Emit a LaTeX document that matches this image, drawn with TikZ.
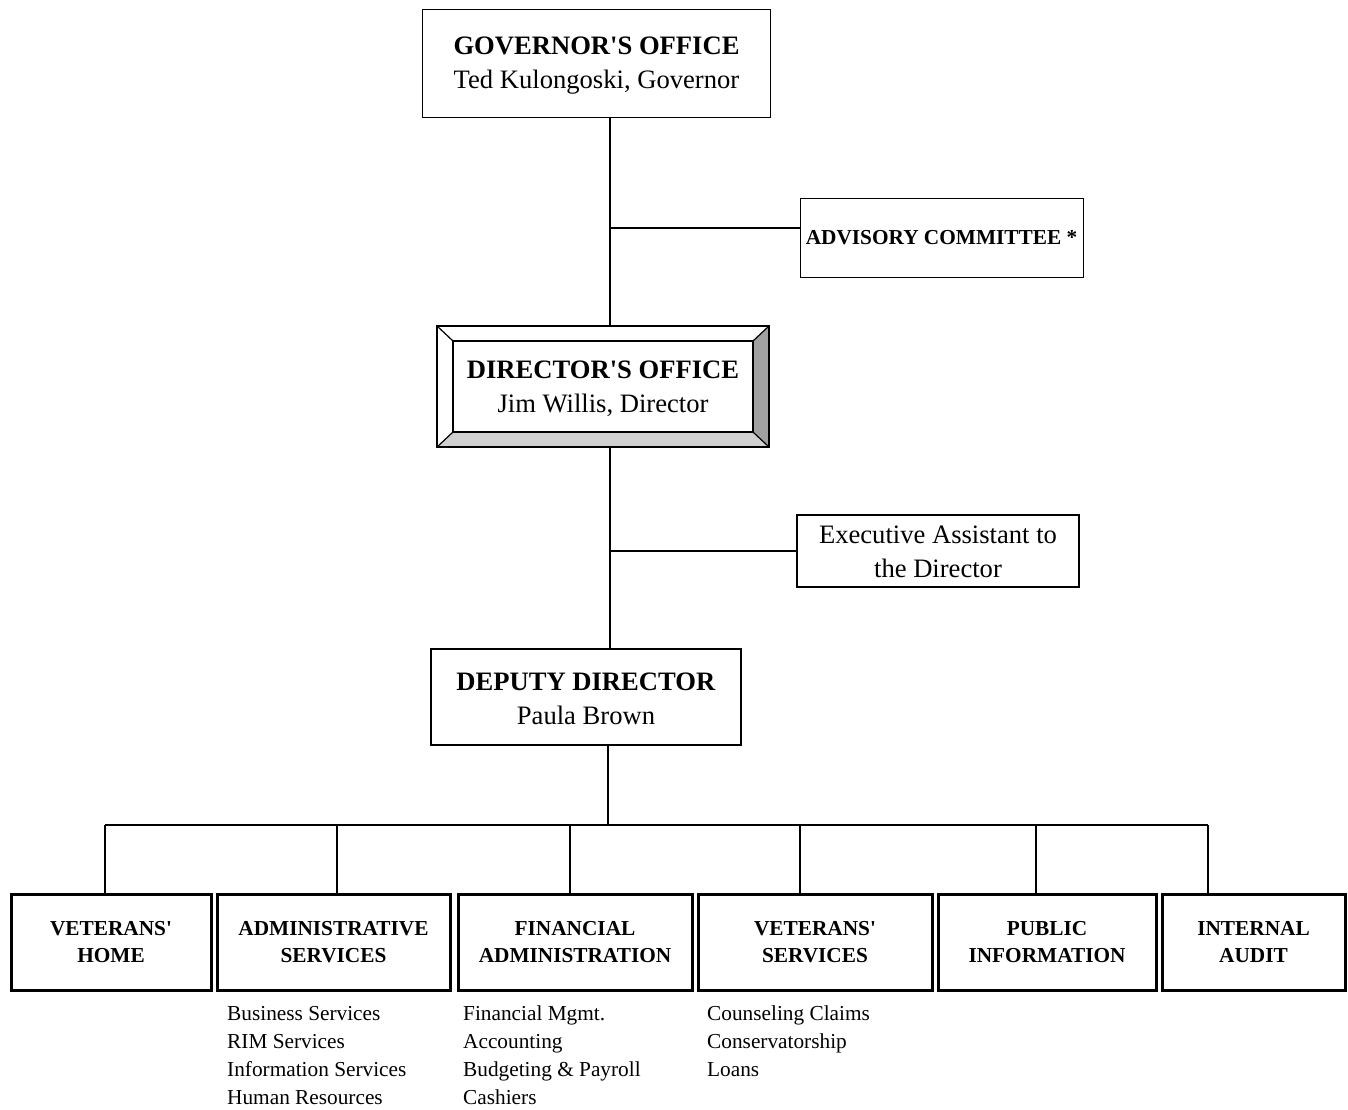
\documentclass[tikz,border=0pt]{standalone}
\usepackage{fontspec}
\setmainfont{Liberation Serif}
\usetikzlibrary{calc}
\definecolor{bevR}{HTML}{A0A0A0}
\definecolor{bevB}{HTML}{D0D0D0}
\newcommand{\ap}{\textquotesingle}
\tikzset{
  big/.style={font=\fontsize{26.6}{34}\selectfont, align=center},
  unitbox/.style={draw, line width=3pt, inner sep=0pt, minimum height=96pt,
    font=\fontsize{21.3}{27.5}\selectfont\bfseries, align=center},
  subitem/.style={anchor=base west, inner sep=0pt, font=\fontsize{21.3}{28}\selectfont},
  conn/.style={line width=2pt},
}
\begin{document}
\begin{tikzpicture}[x=1pt,y=-1pt]
\useasboundingbox (0,0) rectangle (1348,1109);
% top boxes
\node[big, draw, line width=1.6pt, minimum width=348pt, minimum height=108pt, inner sep=0pt] (gov) at (596.5,63.5)
  {};
\node[big, inner sep=0pt] (govt) at (596.5,65.5) {\textbf{GOVERNOR\ap S OFFICE}\\Ted Kulongoski, Governor};
\node[draw, line width=1pt, minimum width=283pt, minimum height=79pt, inner sep=0pt,
  font=\fontsize{21.3}{26}\selectfont\bfseries] (adv) at (941.5,237.5) {ADVISORY COMMITTEE *};
% director's office bevel box
\node[minimum width=332pt, minimum height=121pt, inner sep=0pt] (dir) at (603,386.5) {};
\node[minimum width=300pt, minimum height=91pt, inner sep=0pt] (dirin) at (603,386.5) {};
\fill[white] (dir.north west) -- (dir.north east) -- (dirin.north east) -- (dirin.north west) -- cycle;
\fill[white] (dir.north west) -- (dir.south west) -- (dirin.south west) -- (dirin.north west) -- cycle;
\fill[bevR] (dir.north east) -- (dir.south east) -- (dirin.south east) -- (dirin.north east) -- cycle;
\fill[bevB] (dir.south west) -- (dir.south east) -- (dirin.south east) -- (dirin.south west) -- cycle;
\draw[line width=2pt] (dir.north west) rectangle (dir.south east);
\draw[line width=1.6pt] (dirin.north west) rectangle (dirin.south east);
\draw[line width=1.2pt] (dir.north west) -- (dirin.north west)
  (dir.north east) -- (dirin.north east)
  (dir.south west) -- (dirin.south west)
  (dir.south east) -- (dirin.south east);
\node[big, inner sep=0pt] (dirt) at (603,388.5) {\textbf{DIRECTOR\ap S OFFICE}\\Jim Willis, Director};
\node[draw, line width=1.6pt, minimum width=282pt, minimum height=72pt, inner sep=0pt] (exe) at (938,551) {};
\node[big, inner sep=0pt] (exet) at (938,552) {Executive Assistant to\\the Director};
\node[draw, line width=2pt, minimum width=310pt, minimum height=96pt, inner sep=0pt] (dep) at (586,697) {};
\node[big, inner sep=0pt] (dept) at (586,699) {\textbf{DEPUTY DIRECTOR}\\Paula Brown};
% bottom units
\node[unitbox, minimum width=200pt] (u1) at (111,942) {VETERANS\ap\\HOME};
\node[unitbox, minimum width=233pt] (u2) at (333.5,942) {ADMINISTRATIVE\\SERVICES};
\node[unitbox, minimum width=234pt] (u3) at (575,942) {FINANCIAL\\ADMINISTRATION};
\node[unitbox, minimum width=234pt] (u4) at (815,942) {VETERANS\ap\\SERVICES};
\node[unitbox, minimum width=218pt] (u5) at (1047,942) {PUBLIC\\INFORMATION};
\node[unitbox, minimum width=183pt] (u6) at (1253.5,942) {INTERNAL\\AUDIT};
% connectors
\coordinate (ja) at (610,228);
\coordinate (je) at (610,551);
\coordinate (jd) at (608,825);
\draw[conn] (ja |- gov.south) -- (ja |- dir.north);
\draw[conn] (ja) -- (ja -| adv.west);
\draw[conn] (je |- dir.south) -- (je |- dep.north);
\draw[conn] (je) -- (je -| exe.west);
\draw[conn] (jd |- dep.south) -- (jd);
\coordinate (b1) at (105,825);
\coordinate (b2) at (337,825);
\coordinate (b3) at (570,825);
\coordinate (b4) at (800,825);
\coordinate (b5) at (1036,825);
\coordinate (b6) at (1208,825);
\draw[conn] (b1) -- (b6);
\draw[conn] (b1) -- (b1 |- u1.north);
\draw[conn] (b2) -- (b2 |- u2.north);
\draw[conn] (b3) -- (b3 |- u3.north);
\draw[conn] (b4) -- (b4 |- u4.north);
\draw[conn] (b5) -- (b5 |- u5.north);
\draw[conn] (b6) -- (b6 |- u6.north);
% sub items
\node[subitem] (a1) at (227,1020) {Business Services};
\node[subitem] (a2) at (227,1048) {RIM Services};
\node[subitem] (a3) at (227,1076) {Information Services};
\node[subitem] (a4) at (227,1104) {Human Resources};
\node[subitem] (f1) at (463,1020) {Financial Mgmt.};
\node[subitem] (f2) at (463,1048) {Accounting};
\node[subitem] (f3) at (463,1076) {Budgeting \& Payroll};
\node[subitem] (f4) at (463,1104) {Cashiers};
\node[subitem] (v1) at (707,1020) {Counseling Claims};
\node[subitem] (v2) at (707,1048) {Conservatorship};
\node[subitem] (v3) at (707,1076) {Loans};
\end{tikzpicture}
\end{document}
